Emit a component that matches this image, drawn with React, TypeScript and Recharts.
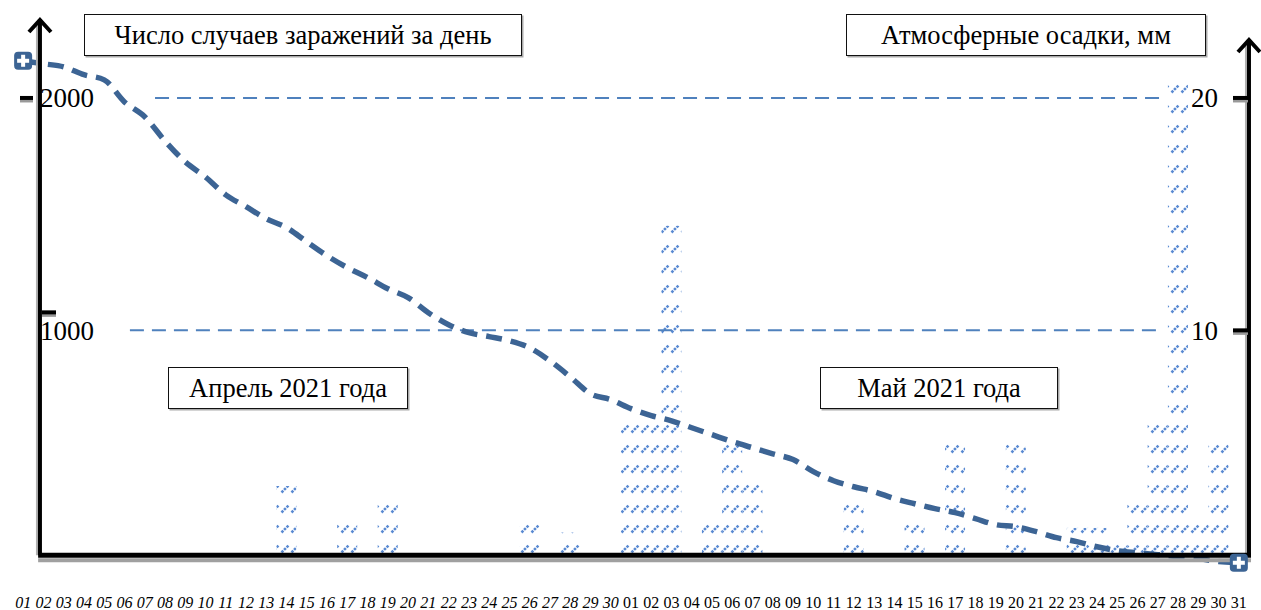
import React from 'react';
import { ComposedChart, Bar, Line, XAxis, YAxis, ReferenceLine } from 'recharts';

// day labels, April then May
const aprilDays = ['01', '02', '03', '04', '05', '06', '07', '08', '09', '10', '11', '12', '13', '14', '15', '16', '17', '18', '19', '20', '21', '22', '23', '24', '25', '26', '27', '28', '29', '30'];
const mayDays = ['01', '02', '03', '04', '05', '06', '07', '08', '09', '10', '11', '12', '13', '14', '15', '16', '17', '18', '19', '20', '21', '22', '23', '24', '25', '26', '27', '28', '29', '30', '31'];

// cases per day (left axis)
const cases = [
  2160, 2147, 2134, 2100, 2078, 1983, 1919, 1815, 1725, 1660, 1583, 1532, 1480, 1442, 1381,
  1321, 1270, 1227, 1179, 1141, 1076, 1024, 990, 973, 955, 925, 869, 800, 727, 702,
  663, 633, 611, 581, 551, 521, 495, 469, 444, 392, 353, 327, 306, 276, 254, 233,
  216, 190, 164, 155, 134, 108, 91, 69, 52, 43, 35, 26, 18, 5, 0,
];

// precipitation, mm (right axis)
const rain = [
  0, 0, 0, 0, 0, 0, 0, 0, 0, 0, 0, 0, 0, 3.3, 0, 0, 1.7, 0, 2.6, 0, 0, 0, 0, 0, 0, 1.7, 0, 1.3, 0, 0,
  6.0, 6.2, 14.5, 0, 1.7, 5.4, 3.5, 0, 0, 0, 0, 2.8, 0, 0, 1.7, 0, 5.2, 0, 0, 5.3, 0, 0, 1.5, 1.5, 1.0,
  2.6, 6.2, 20.8, 1.7, 5.4, 0,
];

const leftTicks = [1000, 2000];
const rightTicks = [10, 20];

const labels = [...aprilDays, ...mayDays];
const data = labels.map((label, i) => ({
  x: i + 1,
  label,
  april: i < aprilDays.length,
  cases: cases[i],
  rain: rain[i],
}));

const serif = '"Liberation Serif", "Times New Roman", serif';

const DayTick = (props: any) => {
  const { x, y, payload } = props;
  const d = data[payload.value - 1];
  if (!d) return <g />;
  return (
    <text x={x} y={y} dy={22} textAnchor="middle" fontFamily={serif} fontSize={16}
      fontStyle={d.april ? 'italic' : 'normal'} fill="#000">
      {d.label}
    </text>
  );
};

const LeftTick = (props: any) => {
  const { y, payload } = props;
  const top = payload.value === 2000;
  return (
    <g>
      {top ? (
        <g>
          <line x1={20} x2={33} y1={y + 3} y2={y + 3} stroke="#999" strokeWidth={3} />
          <line x1={20} x2={33} y1={y} y2={y} stroke="#000" strokeWidth={4} />
        </g>
      ) : (
        <g>
          <line x1={42} x2={56} y1={y - 15} y2={y - 15} stroke="#999" strokeWidth={3} />
          <line x1={42} x2={56} y1={y - 18} y2={y - 18} stroke="#000" strokeWidth={4} />
        </g>
      )}
      <text x={40} y={y} dy="0.35em" textAnchor="start" fontFamily={serif} fontSize={27} fill="#000">
        {payload.value}
      </text>
    </g>
  );
};

const RightTick = (props: any) => {
  const { y, payload } = props;
  return (
    <g>
      <line x1={1233} x2={1248} y1={y + 3} y2={y + 3} stroke="#999" strokeWidth={3} />
      <line x1={1233} x2={1248} y1={y} y2={y} stroke="#000" strokeWidth={4} />
      <text x={1218} y={y} dy="0.35em" textAnchor="end" fontFamily={serif} fontSize={27} fill="#000">
        {payload.value}
      </text>
    </g>
  );
};

const ArrowAxis = (props: any) => {
  const { x1, y1, x2, y2 } = props;
  const top = Math.min(y1, y2);
  const bottom = Math.max(y1, y2);
  const x = x1;
  return (
    <g>
      <line x1={x - 3} x2={x - 3} y1={top + 4} y2={bottom} stroke="#b0b0b0" strokeWidth={2} />
      <line x1={x} x2={x2} y1={bottom} y2={top + 1} stroke="#000" strokeWidth={4} />
      <polyline points={`${x - 11},${top + 14} ${x},${top + 2} ${x + 11},${top + 14}`}
        fill="none" stroke="#000" strokeWidth={4} />
    </g>
  );
};

const BottomAxis = (props: any) => {
  const { x1, y1, x2 } = props;
  return (
    <g>
      <line x1={x1} x2={x2} y1={y1 + 5} y2={y1 + 5} stroke="#a0a0a0" strokeWidth={4} />
      <line x1={x1} x2={x2} y1={y1} y2={y1} stroke="#000" strokeWidth={5} />
    </g>
  );
};

const EndMarker = (props: any) => {
  const { cx, cy, index } = props;
  if (index !== 0 && index !== data.length - 1) return <g key={index} />;
  return (
    <g key={index}>
      <rect x={cx - 9} y={cy - 9} width={18} height={18} rx={4} fill="#3C6494" />
      <rect x={cx - 6} y={cy - 2} width={12} height={4} fill="#fff" />
      <rect x={cx - 2} y={cy - 6} width={4} height={12} fill="#fff" />
    </g>
  );
};

const boxStyle: React.CSSProperties = {
  position: 'absolute',
  boxSizing: 'border-box',
  border: '1.5px solid #111',
  boxShadow: '1.5px 1.5px 0 #aaa',
  background: '#fff',
  display: 'flex',
  alignItems: 'center',
  justifyContent: 'center',
  fontFamily: serif,
  fontSize: 26.5,
  color: '#000',
  whiteSpace: 'nowrap',
};

const gridStroke = '#4F81BD';

export default function App() {
  return (
    <div style={{ position: 'absolute', left: 0, top: 0, width: 1261, height: 610, background: '#fff' }}>
      <svg width={0} height={0} style={{ position: 'absolute' }}>
        <defs>
          <pattern id="rainDash" patternUnits="userSpaceOnUse" x={0} y={0} width={10} height={20}>
            <line x1={1.5} y1={12.5} x2={8.5} y2={5.5} stroke="#5A8AD2" strokeWidth={2.6} strokeDasharray="2.6 1" />
          </pattern>
        </defs>
      </svg>
      <ComposedChart width={1261} height={610} data={data} margin={{ top: 5, right: 10, bottom: 0, left: 13 }}>
        <XAxis dataKey="x" type="number" domain={[0.5, 61.6]} ticks={data.map((d) => d.x)} interval={0}
          height={24} axisLine={false} tickLine={false} tickSize={0} tickMargin={0} tick={<DayTick />} />
        <YAxis yAxisId="left" domain={[-100, 2400]} ticks={leftTicks} mirror axisLine={false} tickLine={false}
          tick={<LeftTick />} allowDataOverflow />
        <YAxis yAxisId="right" orientation="right" domain={[-1, 24]} ticks={rightTicks} mirror axisLine={false}
          tickLine={false} tick={<RightTick />} allowDataOverflow />

        <ReferenceLine yAxisId="left" segment={[{ x: 7.51, y: 2000 }, { x: 57.36, y: 2000 }]}
          stroke={gridStroke} strokeWidth={2} strokeDasharray="14 8" />
        <ReferenceLine yAxisId="left" segment={[{ x: 6.27, y: 1000 }, { x: 57.11, y: 1000 }]}
          stroke={gridStroke} strokeWidth={2} strokeDasharray="14 8" />

        <Bar yAxisId="right" dataKey="rain" fill="url(#rainDash)" barSize={20} isAnimationActive={false} />
        <Line yAxisId="left" dataKey="cases" type="monotone" stroke="#3C6494" strokeWidth={5.5}
          strokeDasharray="16 9" dot={EndMarker} activeDot={false} isAnimationActive={false} />

        <ReferenceLine yAxisId="left" segment={[{ x: 1.83, y: 32 }, { x: 1.83, y: 2344 }]} shape={ArrowAxis} />
        <ReferenceLine yAxisId="left" segment={[{ x: 61.5, y: 32 }, { x: 61.5, y: 2258 }]} shape={ArrowAxis} />
        <ReferenceLine yAxisId="left" segment={[{ x: 1.74, y: 32 }, { x: 61.6, y: 32 }]} shape={BottomAxis} />
      </ComposedChart>

      <div style={{ ...boxStyle, left: 84, top: 14, width: 438, height: 42 }}>Число случаев заражений за день</div>
      <div style={{ ...boxStyle, left: 846, top: 14, width: 360, height: 42 }}>Атмосферные осадки, мм</div>
      <div style={{ ...boxStyle, left: 168, top: 367, width: 240, height: 42 }}>Апрель 2021 года</div>
      <div style={{ ...boxStyle, left: 820, top: 367, width: 238, height: 42 }}>Май 2021 года</div>
    </div>
  );
}
